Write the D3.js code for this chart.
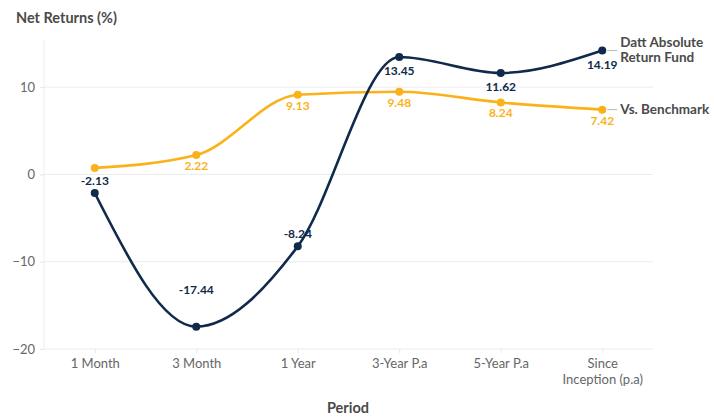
<!DOCTYPE html>
<html>
<head>
<meta charset="utf-8">
<script src="https://cdn.jsdelivr.net/npm/d3@7"></script>
<style>
  body { margin: 0; background: #fff; }
  text { font-family: Lato, "Open Sans", sans-serif; }
</style>
</head>
<body>
<svg id="chart"></svg>
<script>
// data
const periods = ["1 Month", "3 Month", "1 Year", "3-Year P.a", "5-Year P.a", "Since Inception (p.a)"];
const fundValues = [-2.13, -17.44, -8.24, 13.45, 11.62, 14.19];
const benchValues = [0.75, 2.22, 9.13, 9.48, 8.24, 7.42];
const benchLabels = [null, "2.22", "9.13", "9.48", "8.24", "7.42"];
const yTicks = [10, 0, -10, -20];

const width = 714;
const height = 417;
const margin = { top: 40, right: 61, bottom: 68, left: 44 };

const fundColor = "#0f2a4a";
const benchColor = "#fbb21a";

const svg = d3.select("#chart").attr("width", width).attr("height", height);

const x = d3.scalePoint()
  .domain(periods)
  .range([margin.left, width - margin.right])
  .padding(0.5);

const y = d3.scaleLinear()
  .domain([-20, 15.4])
  .range([height - margin.bottom, margin.top]);

// title
svg.append("text")
  .attr("x", 16)
  .attr("y", 23)
  .style("font-size", "14.5px")
  .style("font-weight", "bold")
  .style("fill", "#4a4a4a")
  .text("Net Returns (%)");

// grid
svg.append("g")
  .selectAll("line")
  .data(yTicks)
  .join("line")
  .attr("x1", margin.left)
  .attr("x2", width - margin.right)
  .attr("y1", (d) => y(d))
  .attr("y2", (d) => y(d))
  .style("stroke", "#ececec");

// y axis line
svg.append("line")
  .attr("x1", margin.left)
  .attr("x2", margin.left)
  .attr("y1", margin.top)
  .attr("y2", y(-20))
  .style("stroke", "#ececec");

const yAxis = svg.append("g")
  .attr("transform", `translate(${margin.left}, 0)`)
  .call(d3.axisLeft(y).tickValues(yTicks).tickSize(4).tickPadding(5));
yAxis.select(".domain").remove();
yAxis.selectAll("line").style("stroke", "#e6e6e6");
yAxis.selectAll("text").style("font-size", "13px").style("fill", "#666");

const xAxis = svg.append("g")
  .attr("transform", `translate(0, ${y(-20)})`)
  .call(d3.axisBottom(x).tickSize(4).tickPadding(6));
xAxis.select(".domain").remove();
xAxis.selectAll("line").style("stroke", "#e6e6e6");
xAxis.selectAll("text")
  .style("font-size", "13px")
  .style("fill", "#666")
  .each(function (d) {
    const t = d3.select(this);
    if (d.startsWith("Since")) {
      t.text(null);
      t.append("tspan").attr("x", 0).attr("dy", "0.71em").text("Since");
      t.append("tspan").attr("x", 0).attr("dy", "1.2em").text("Inception (p.a)");
      t.attr("dy", null);
    }
  });

svg.append("text")
  .attr("x", 348)
  .attr("y", 413)
  .attr("text-anchor", "middle")
  .style("font-size", "14.5px")
  .style("font-weight", "bold")
  .style("fill", "#4a4a4a")
  .text("Period");

const line = d3.line()
  .x((d, i) => x(periods[i]))
  .y((d) => y(d))
  .curve(d3.curveMonotoneX);

function drawSeries(values, color) {
  svg.append("path")
    .datum(values)
    .attr("d", line)
    .style("fill", "none")
    .style("stroke", color)
    .style("stroke-width", 2.6);
  svg.append("g")
    .selectAll("circle")
    .data(values)
    .join("circle")
    .attr("cx", (d, i) => x(periods[i]))
    .attr("cy", (d) => y(d))
    .attr("r", 4)
    .style("fill", color);
}

drawSeries(benchValues, benchColor);
drawSeries(fundValues, fundColor);

// value labels
svg.append("g")
  .selectAll("text")
  .data(benchValues)
  .join("text")
  .attr("x", (d, i) => x(periods[i]))
  .attr("y", (d) => y(d) + 15)
  .attr("text-anchor", "middle")
  .style("font-size", "12px")
  .style("font-weight", "bold")
  .style("fill", benchColor)
  .text((d, i) => benchLabels[i]);

svg.append("g")
  .selectAll("text")
  .data(fundValues)
  .join("text")
  .attr("x", (d, i) => x(periods[i]))
  .attr("y", (d) => (d < 0 ? y(d) - (d < -15 ? 33 : 8) : y(d) + 18))
  .attr("text-anchor", "middle")
  .style("font-size", "12px")
  .style("font-weight", "bold")
  .style("fill", fundColor)
  .text((d) => d.toFixed(2));

// series labels
const last = periods.length - 1;
const endX = x(periods[last]);
function seriesLabel(value, lines) {
  svg.append("line")
    .attr("x1", endX + 5)
    .attr("x2", endX + 15)
    .attr("y1", y(value))
    .attr("y2", y(value))
    .style("stroke", "#bbb");
  lines.forEach((l, i) => {
    svg.append("text")
      .attr("x", endX + 18)
      .attr("y", y(value) + 4 + (i - (lines.length - 1) / 2) * 15)
      .style("font-size", "13.5px")
      .style("font-weight", "bold")
      .style("fill", "#4a4a4a")
      .text(l);
  });
}
seriesLabel(fundValues[last], ["Datt Absolute", "Return Fund"]);
seriesLabel(benchValues[last], ["Vs. Benchmark"]);
</script>
</body>
</html>
